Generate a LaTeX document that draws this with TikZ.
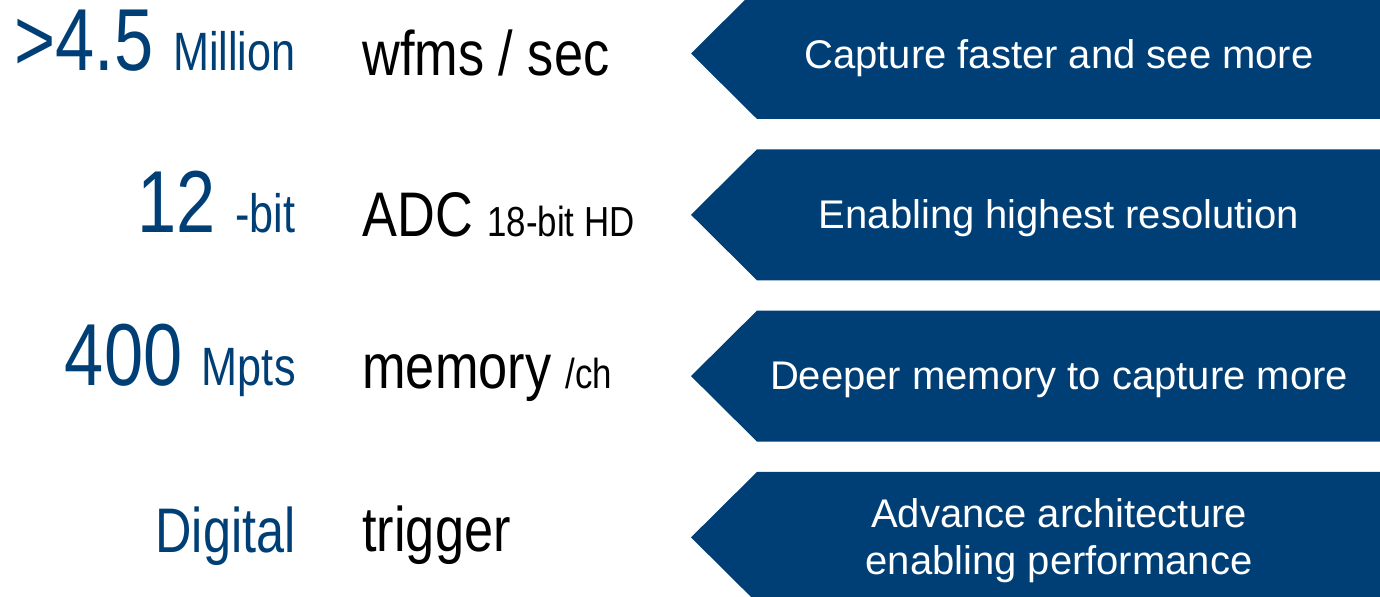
\documentclass[tikz,border=0pt]{standalone}
\usepackage{fontspec}
\setmainfont{Liberation Sans}
\newfontfamily\narrowfont[FakeStretch=0.8]{Liberation Sans}
\newfontfamily\wordfont[FakeStretch=0.83]{Liberation Sans}
\definecolor{specblue}{HTML}{003F76}
\newcommand\numsz{\fontsize{44}{44}\selectfont}
\newcommand\unitsz{\fontsize{27}{28}\selectfont}
\newcommand\wordsz{\fontsize{31.5}{32}\selectfont}
\newcommand\smallsz{\fontsize{21}{22}\selectfont}
\tikzset{
  figure/.style={font=\narrowfont\unitsz, text=specblue, inner sep=0pt, anchor=base east},
  feature/.style={font=\wordfont\wordsz, text=black, inner sep=0pt, anchor=base west},
  claim/.style={font=\fontsize{20}{23.5}\selectfont, text=white, inner sep=0pt, align=center},
  banner/.style={fill=specblue}
}

\begin{document}
\begin{tikzpicture}[x=0.5pt,y=-0.5pt]
    \useasboundingbox (0,0) rectangle (1380,597);
    \clip (0,0) rectangle (1380,597);
    % the four banners, pointing left
    \foreach \c in {53.5,214.8,376.1,537.4}
      \fill[banner] (691,\c) -- (757,\c-65.5) -- (1380,\c-65.5)
        -- (1380,\c+65.5) -- (757,\c+65.5) -- cycle;
    % key figures
    \node[figure] (n1) at (296,71)  {{\numsz >4.5\ }Million};
    \node[figure] (n2) at (296,233) {{\numsz 12\ }-bit};
    \node[figure] (n3) at (296,386) {{\numsz 400\ }Mpts};
    \node[figure,font=\narrowfont\wordsz] (n4) at (296,553) {Digital};
    % what they measure
    \node[feature] (f1) at (362,76)  {wfms / sec};
    \node[feature] (f2) at (362,237) {ADC {\smallsz 18-bit HD}};
    \node[feature] (f3) at (362,389) {memory {\smallsz /ch}};
    \node[feature] (f4) at (362,552) {trigger};
    % banner texts
    \node[claim,anchor=base] (c1) at (1059,69)  {Capture faster and see more};
    \node[claim,anchor=base] (c2) at (1059,229) {Enabling highest resolution};
    \node[claim,anchor=base] (c3) at (1059,390) {Deeper memory to capture more};
    \node[claim] (c4) at (1059,541) {Advance architecture\\enabling performance};
\end{tikzpicture}
\end{document}
